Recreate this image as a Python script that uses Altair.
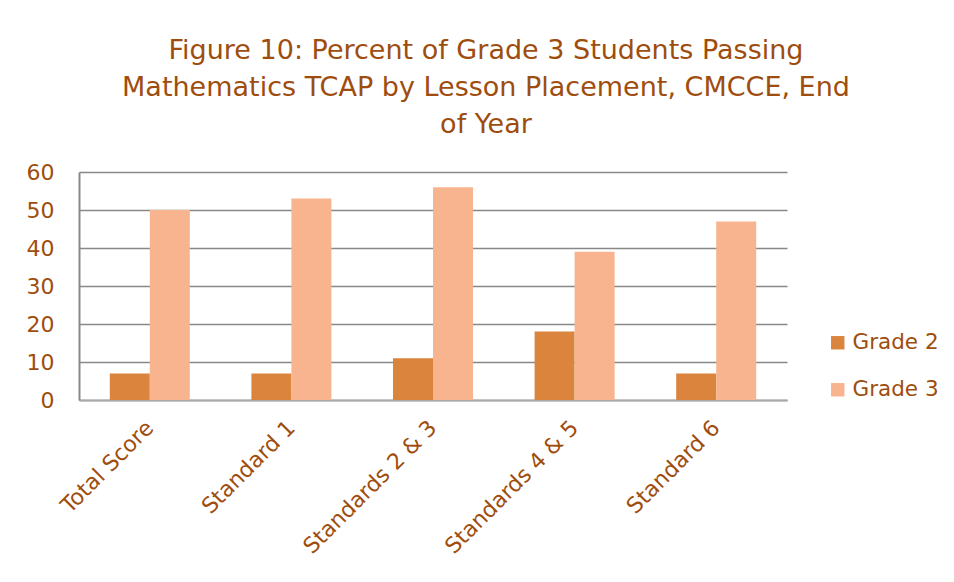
import altair as alt
import pandas as pd

categories = ["Total Score", "Standard 1", "Standards 2 & 3", "Standards 4 & 5", "Standard 6"]
grade2 = [7, 7, 11, 18, 7]
grade3 = [50, 53, 56, 39, 47]
series = ["Grade 2", "Grade 3"]
colors = ["#DB843D", "#F8B48F"]
y_ticks = [0, 10, 20, 30, 40, 50, 60]

rows = []
for c, a, b in zip(categories, grade2, grade3):
    rows.append({"cat": c, "grade": "Grade 2", "val": a})
    rows.append({"cat": c, "grade": "Grade 3", "val": b})
df = pd.DataFrame(rows)

TXT = "#9E4D0E"

chart = alt.Chart(df).mark_bar().encode(
    x=alt.X("cat:N", sort=categories,
            scale=alt.Scale(paddingInner=0.435, paddingOuter=0.2175),
            axis=alt.Axis(title=None, labelAngle=-45, labelAlign="right", labelBaseline="middle",
                          labelFontSize=22, labelFont="DejaVu Sans", labelColor=TXT,
                          labelPadding=24, ticks=False, domainColor="#AAAAAA", domainWidth=2,
                          grid=False)),
    xOffset=alt.XOffset("grade:N", sort=series, scale=alt.Scale(paddingInner=0, paddingOuter=0)),
    y=alt.Y("val:Q", scale=alt.Scale(domain=[0, 60], nice=False),
            axis=alt.Axis(title=None, values=y_ticks, labelFontSize=22, labelFont="DejaVu Sans",
                          labelColor=TXT, labelPadding=25, ticks=False, domainColor="#888888",
                          domainWidth=2, gridColor="#888888", gridWidth=1.5)),
    color=alt.Color("grade:N", sort=series, scale=alt.Scale(domain=series, range=colors),
                    legend=alt.Legend(title=None, orient="none", legendX=748, legendY=160,
                                      symbolType="square", symbolSize=180, symbolStrokeWidth=0,
                                      labelFontSize=21.5, labelFont="DejaVu Sans", labelColor=TXT,
                                      rowPadding=24, labelOffset=4)),
).properties(
    width=708, height=228,
    title=alt.TitleParams(
        ["Figure 10: Percent of Grade 3 Students Passing",
         "Mathematics TCAP by Lesson Placement, CMCCE, End",
         "of Year"],
        font="DejaVu Sans", fontSize=27, fontWeight="normal", color=TXT,
        anchor="middle", dx=53, offset=22, lineHeight=37),
    padding={"left": 71, "top": 164, "right": 158, "bottom": 170},
    autosize=alt.AutoSizeParams(type="none"),
).configure_view(stroke=None)

chart.save("out.html", embed_options={"renderer": "svg", "actions": False})
